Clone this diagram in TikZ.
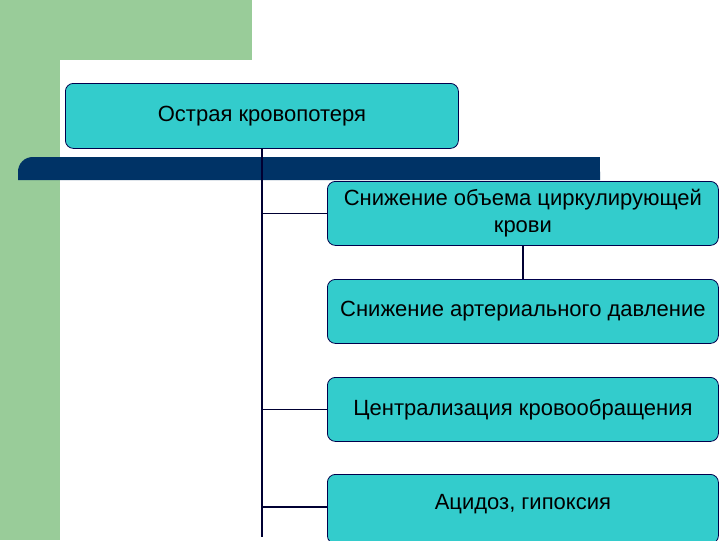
\documentclass[tikz,border=0pt]{standalone}
\usepackage{fontspec}
\setmainfont{Liberation Sans}
\begin{document}
\begin{tikzpicture}[x=0.75pt,y=-0.75pt,
  box/.style={draw=black!70!blue,line width=0.6pt,fill=cyanbox,rounded corners=6pt,align=center,font=\fontsize{16.5}{20}\selectfont,inner sep=0pt,anchor=north west},
  conn/.style={draw=black!80!blue,line width=1pt}]
\definecolor{cyanbox}{HTML}{33CCCC}
\definecolor{greenbg}{HTML}{99CC99}
\definecolor{navy}{HTML}{003366}
\useasboundingbox (0,0) rectangle (720,540);
\fill[greenbg] (0,0) rectangle (252,60);
\fill[greenbg] (0,0) rectangle (60,540);
\fill[white,rounded corners=8pt] (60,60) -- (720,60) -- (720,540) -- (60,540) -- cycle;
\fill[white] (70,60) rectangle (720,540);
\fill[white] (60,70) rectangle (720,540);
\fill[navy,rounded corners=11pt] (18,157) -- (600,157) [sharp corners]-- (600,180) -- (18,180) [rounded corners=11pt] -- cycle;
\fill[navy] (300,157) rectangle (600,180);
\node[box,minimum width=294.75pt,minimum height=48.75pt] (a) at (65,83) {Острая кровопотеря};
\node[box,minimum width=293.25pt,minimum height=48pt] (b) at (327,181) {Снижение объема циркулирующей\\крови};
\node[box,minimum width=293.25pt,minimum height=48pt] (c) at (327,279) {Снижение артериального давление};
\node[box,minimum width=293.25pt,minimum height=48pt] (d) at (327,377) {Централизация кровообращения};
\node[box,minimum width=293.25pt,minimum height=52pt] (e) at (327,474) {\raisebox{10pt}{Ацидоз, гипоксия}};
\coordinate (top) at (262,148);
\coordinate (bot) at (262,537);
\draw[conn] (top) -- (bot);
\draw[conn] (top |- b.west) -- (b.west);
\draw[conn] (top |- d.west) -- (d.west);
\draw[conn] (262,507) -- (e.west |- 0,507);
\draw[conn] (b.south) -- (c.north);
\end{tikzpicture}
\end{document}
